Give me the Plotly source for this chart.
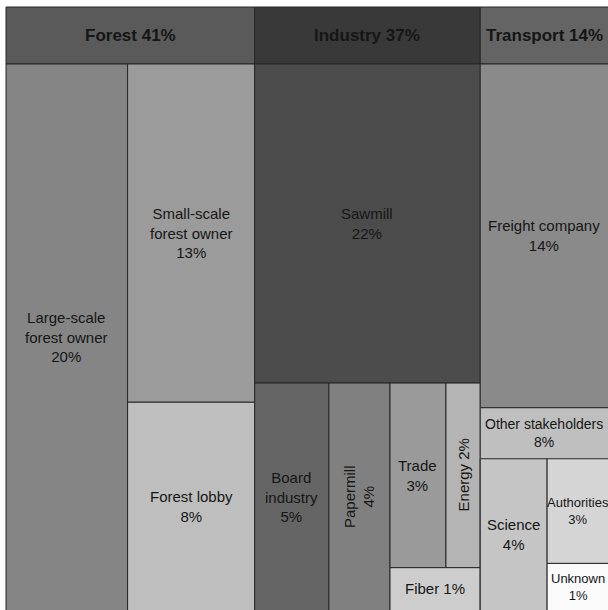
import plotly.graph_objects as go

# ---------------- data (shares in %; labels show rounded values) ----------------
groups = ["Forest", "Industry", "Transport"]

forest_names = ["Large-scale forest owner", "Small-scale forest owner", "Forest lobby"]
forest_pct = [20.0, 12.9, 8.0]

industry_names = ["Sawmill", "Board industry", "Papermill", "Trade", "Energy", "Fiber"]
industry_pct = [21.6, 5.1, 4.2, 3.1, 1.9, 1.2]

transport_names = ["Freight company"]
transport_pct = [13.8]

other_name = "Other stakeholders"
other_names = ["Science", "Authorities", "Unknown"]
other_pct = [4.1, 2.8, 1.3]

group_pct = [sum(forest_pct), sum(industry_pct), sum(transport_pct)]

# ---------------- styles ----------------
header_colors = {"Forest": "#5a5a5a", "Industry": "#393939", "Transport": "#646464"}
leaf_colors = {
    "Large-scale forest owner": "#858585",
    "Small-scale forest owner": "#9b9b9b",
    "Forest lobby": "#bebebe",
    "Sawmill": "#4c4c4c",
    "Board industry": "#656565",
    "Papermill": "#808080",
    "Trade": "#9a9a9a",
    "Energy": "#b4b4b4",
    "Fiber": "#cdcdcd",
    "Freight company": "#8a8a8a",
    "Other stakeholders": "#bfbfbf",
    "Science": "#c5c5c5",
    "Authorities": "#d5d5d5",
    "Unknown": "#fafafa",
}
label_text = {
    "Large-scale forest owner": "Large-scale<br>forest owner<br>{p}%",
    "Small-scale forest owner": "Small-scale<br>forest owner<br>{p}%",
    "Forest lobby": "Forest lobby<br>{p}%",
    "Sawmill": "Sawmill<br>{p}%",
    "Board industry": "Board<br>industry<br>{p}%",
    "Papermill": "Papermill<br>{p}%",
    "Trade": "Trade<br>{p}%",
    "Energy": "Energy {p}%",
    "Fiber": "Fiber {p}%",
    "Freight company": "Freight company<br>{p}%",
    "Other stakeholders": "Other stakeholders<br>{p}%",
    "Science": "Science<br>{p}%",
    "Authorities": "Authorities<br>{p}%",
    "Unknown": "Unknown<br>{p}%",
}
label_size = {"Other stakeholders": 14, "Authorities": 13, "Unknown": 13}
rotated = {"Papermill", "Energy"}

W, H = 608, 610
FRAME = (6, 7, 614, 612)  # x0, y0, x1, y1 in pixel space (chart runs past window edge)
HEADER_H = 57
SUBHEADER_H = 51
LINE = dict(color="#262626", width=1)
FONT = "Liberation Sans, Arial, sans-serif"


def split(rect, weights, horizontal):
    x0, y0, x1, y1 = rect
    tot = float(sum(weights))
    out, acc = [], 0.0
    for w in weights:
        if horizontal:
            out.append((x0 + (x1 - x0) * acc / tot, y0, x0 + (x1 - x0) * (acc + w) / tot, y1))
        else:
            out.append((x0, y0 + (y1 - y0) * acc / tot, x1, y0 + (y1 - y0) * (acc + w) / tot))
        acc += w
    return out


shapes, annotations = [], []


def cell(rect, color):
    shapes.append(dict(type="rect", xref="x", yref="y", x0=rect[0], y0=rect[1],
                       x1=rect[2], y1=rect[3], fillcolor=color, line=LINE, layer="below"))


def label(rect, text, size=15, bold=False, angle=0):
    if bold:
        text = "<b>" + text + "</b>"
    # centre on the visible part of the cell
    vx0, vx1 = max(rect[0], 0), min(rect[2], W)
    vy0, vy1 = max(rect[1], 0), min(rect[3], H)
    annotations.append(dict(x=(vx0 + vx1) / 2, y=(vy0 + vy1) / 2,
                            xref="x", yref="y", text=text, showarrow=False,
                            textangle=angle, font=dict(family=FONT, size=size, color="#161616"),
                            xanchor="center", yanchor="middle"))


def leaf(rect, name, pct):
    cell(rect, leaf_colors[name])
    label(rect, label_text[name].format(p=round(pct)), size=label_size.get(name, 15),
          angle=-90 if name in rotated else 0)


# top-level columns
col_weights = [sum(forest_pct), sum(industry_pct), sum(transport_pct) + sum(other_pct)]
cols = split(FRAME, col_weights, True)

for g, p, c in zip(groups, group_pct, cols):
    hdr = (c[0], c[1], c[2], c[1] + HEADER_H)
    cell(hdr, header_colors[g])
    label(hdr, f"{g} {round(p)}%", size=17, bold=True)

bodies = [(c[0], c[1] + HEADER_H, c[2], c[3]) for c in cols]

# Forest: large-scale | (small-scale / lobby)
f_left, f_right = split(bodies[0], [forest_pct[0], sum(forest_pct[1:])], True)
leaf(f_left, forest_names[0], forest_pct[0])
for r, n, p in zip(split(f_right, forest_pct[1:], False), forest_names[1:], forest_pct[1:]):
    leaf(r, n, p)

# Industry: sawmill / (board | papermill | ((trade | energy) / fiber))
i_top, i_bot = split(bodies[1], [industry_pct[0], sum(industry_pct[1:])], False)
leaf(i_top, industry_names[0], industry_pct[0])
b1, b2, b3 = split(i_bot, [industry_pct[1], industry_pct[2], sum(industry_pct[3:])], True)
leaf(b1, industry_names[1], industry_pct[1])
leaf(b2, industry_names[2], industry_pct[2])
t_up, t_down = split(b3, [industry_pct[3] + industry_pct[4], industry_pct[5]], False)
for r, n, p in zip(split(t_up, industry_pct[3:5], True), industry_names[3:5], industry_pct[3:5]):
    leaf(r, n, p)
leaf(t_down, industry_names[5], industry_pct[5])

# Transport column: freight / other stakeholders (header + science | (authorities / unknown))
tr_top, tr_bot = split(bodies[2], [transport_pct[0], sum(other_pct)], False)
leaf(tr_top, transport_names[0], transport_pct[0])
o_hdr = (tr_bot[0], tr_bot[1], tr_bot[2], tr_bot[1] + SUBHEADER_H)
cell(tr_bot, leaf_colors[other_name])
label(o_hdr, label_text[other_name].format(p=round(sum(other_pct))), size=label_size[other_name])
o_body = (tr_bot[0], tr_bot[1] + SUBHEADER_H, tr_bot[2], tr_bot[3])
o_left, o_right = split(o_body, [other_pct[0], sum(other_pct[1:])], True)
leaf(o_left, other_names[0], other_pct[0])
for r, n, p in zip(split(o_right, other_pct[1:], False), other_names[1:], other_pct[1:]):
    leaf(r, n, p)

fig = go.Figure()
fig.add_trace(go.Scatter(x=[0, W], y=[0, H], mode="markers", marker=dict(opacity=0),
                         hoverinfo="skip", showlegend=False))
fig.update_layout(
    width=W, height=H,
    margin=dict(l=0, r=0, t=0, b=0),
    paper_bgcolor="white", plot_bgcolor="white",
    xaxis=dict(range=[0, W], visible=False, fixedrange=True),
    yaxis=dict(range=[H, 0], visible=False, fixedrange=True),
    shapes=shapes, annotations=annotations, showlegend=False,
)
fig.write_html("out.html", config={"displayModeBar": False},
               post_script="document.body.style.margin='0px';document.body.style.overflow='hidden';")
